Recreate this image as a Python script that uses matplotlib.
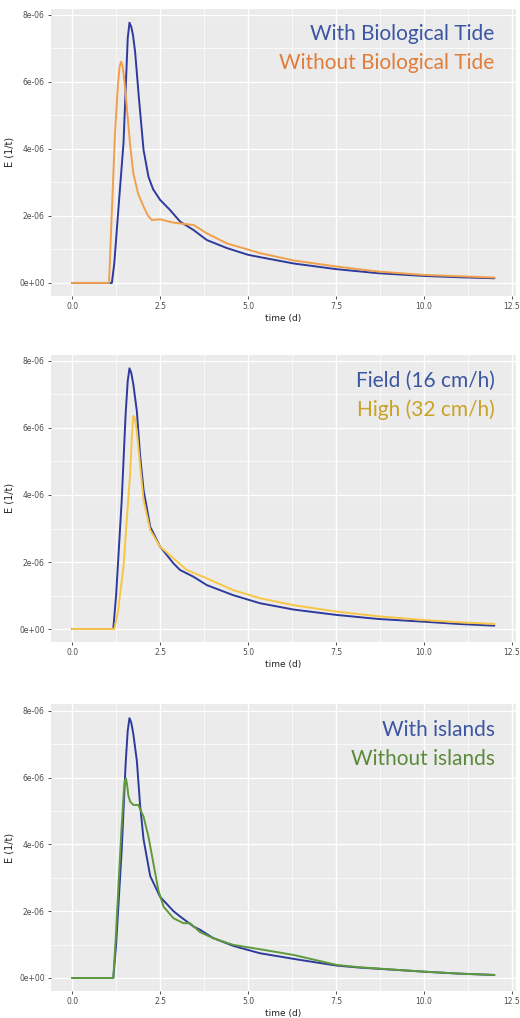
import matplotlib
matplotlib.use("Agg")
import matplotlib.pyplot as plt
import numpy as np

# ---------------- data ----------------
# Panel 1
t_bio = [0.0, 1.0, 1.13, 1.2, 1.3, 1.46, 1.53, 1.58, 1.63, 1.68, 1.73, 1.79, 1.9, 2.03, 2.17, 2.3, 2.5, 2.78, 3.07, 3.45, 3.83, 4.4, 5.0, 5.34, 6.3, 7.52, 8.7, 9.98, 11.0, 12.0]
e_bio = [0.0, 0.0, 0.0, 0.6, 2.0, 4.17, 6.0, 7.3, 7.77, 7.65, 7.4, 6.9, 5.5, 3.97, 3.17, 2.8, 2.48, 2.18, 1.83, 1.58, 1.28, 1.04, 0.84, 0.77, 0.58, 0.41, 0.29, 0.21, 0.17, 0.14]
t_nobio = [0.0, 1.0, 1.05, 1.12, 1.22, 1.3, 1.35, 1.39, 1.43, 1.48, 1.55, 1.65, 1.74, 1.88, 2.03, 2.15, 2.26, 2.5, 2.88, 3.2, 3.45, 3.83, 4.4, 5.34, 6.3, 7.52, 8.7, 9.98, 11.0, 12.0]
e_nobio = [0.0, 0.0, 0.0, 1.9, 4.47, 5.9, 6.45, 6.6, 6.5, 6.1, 5.3, 4.1, 3.27, 2.65, 2.28, 2.02, 1.88, 1.90, 1.80, 1.76, 1.73, 1.48, 1.18, 0.89, 0.67, 0.49, 0.34, 0.24, 0.20, 0.16]

# Panel 2
t_field = [0.0, 1.1, 1.17, 1.25, 1.41, 1.52, 1.58, 1.63, 1.68, 1.74, 1.84, 1.93, 2.03, 2.22, 2.5, 2.88, 3.07, 3.45, 3.83, 4.58, 5.34, 6.3, 7.52, 8.7, 9.98, 11.0, 12.0]
e_field = [0.0, 0.0, 0.0, 1.0, 3.85, 6.4, 7.4, 7.78, 7.65, 7.3, 6.5, 5.2, 4.15, 3.05, 2.46, 1.96, 1.76, 1.56, 1.31, 1.01, 0.77, 0.58, 0.42, 0.30, 0.22, 0.15, 0.10]
t_high = [0.0, 1.15, 1.2, 1.3, 1.46, 1.55, 1.65, 1.7, 1.74, 1.78, 1.84, 1.93, 2.03, 2.22, 2.5, 2.88, 3.26, 3.83, 4.58, 5.34, 6.3, 7.52, 8.7, 9.98, 11.0, 12.0]
e_high = [0.0, 0.0, 0.0, 0.5, 1.86, 3.2, 4.65, 5.8, 6.36, 6.3, 5.9, 4.9, 3.85, 2.95, 2.46, 2.11, 1.76, 1.51, 1.16, 0.92, 0.71, 0.52, 0.38, 0.27, 0.20, 0.15]

# Panel 3
t_isl = [0.0, 1.1, 1.17, 1.25, 1.41, 1.52, 1.58, 1.63, 1.68, 1.74, 1.84, 1.93, 2.03, 2.22, 2.5, 2.88, 3.07, 3.45, 3.64, 4.0, 4.58, 5.34, 6.48, 7.52, 8.18, 9.98, 11.0, 12.0]
e_isl = [0.0, 0.0, 0.0, 1.0, 3.85, 6.4, 7.4, 7.78, 7.65, 7.3, 6.5, 5.2, 4.15, 3.05, 2.43, 2.0, 1.84, 1.54, 1.44, 1.2, 0.96, 0.74, 0.54, 0.37, 0.31, 0.19, 0.13, 0.09]
t_noisl = [0.0, 1.1, 1.17, 1.24, 1.31, 1.4, 1.47, 1.5, 1.53, 1.56, 1.6, 1.65, 1.74, 1.88, 2.03, 2.17, 2.31, 2.45, 2.6, 2.88, 3.16, 3.35, 3.64, 4.01, 4.58, 5.34, 6.29, 7.52, 8.18, 9.98, 11.0, 12.0]
e_noisl = [0.0, 0.0, 0.0, 1.2, 2.63, 4.4, 5.6, 5.9, 5.98, 5.8, 5.45, 5.28, 5.18, 5.18, 4.83, 4.23, 3.43, 2.63, 2.13, 1.79, 1.64, 1.64, 1.37, 1.19, 0.99, 0.86, 0.69, 0.39, 0.32, 0.19, 0.13, 0.09]

panels = [
    dict(series=[(t_bio, e_bio, "#2E3A9C"), (t_nobio, e_nobio, "#F0A04C")],
         labels=[("With Biological Tide", "#3B56A3"), ("Without Biological Tide", "#E07D3A")]),
    dict(series=[(t_field, e_field, "#2E3A9C"), (t_high, e_high, "#F7C646")],
         labels=[("Field (16 cm/h)", "#3B56A3"), ("High (32 cm/h)", "#C9A228")]),
    dict(series=[(t_isl, e_isl, "#2E3A9C"), (t_noisl, e_noisl, "#5E9A3C")],
         labels=[("With islands", "#3B56A3"), ("Without islands", "#5B8A3A")]),
]

xticks = [0.0, 2.5, 5.0, 7.5, 10.0, 12.5]
xtick_labels = ["0.0", "2.5", "5.0", "7.5", "10.0", "12.5"]
yticks = [0, 2e-6, 4e-6, 6e-6, 8e-6]
ytick_labels = ["0e+00", "2e-06", "4e-06", "6e-06", "8e-06"]

fig = plt.figure(figsize=(5.2, 10.18), dpi=100)
W, H = 520, 1018
# (top px, bottom px) for each panel
boxes = [(8.6, 296.0), (354.6, 642.1), (704.4, 991.0)]
left_px, right_px = 51.0, 515.5

for p, (top, bot) in zip(panels, boxes):
    ax = fig.add_axes([left_px / W, 1 - bot / H, (right_px - left_px) / W, (bot - top) / H])
    ax.set_facecolor("#EBEBEB")
    for s in ax.spines.values():
        s.set_visible(False)
    ax.set_xlim(-0.6, 12.6)
    ax.set_ylim(-0.39e-6, 8.19e-6)
    ax.set_xticks(xticks)
    ax.set_xticklabels(xtick_labels)
    ax.set_yticks(yticks)
    ax.set_yticklabels(ytick_labels)
    ax.set_xticks([1.25, 3.75, 6.25, 8.75, 11.25], minor=True)
    ax.set_yticks([1e-6, 3e-6, 5e-6, 7e-6], minor=True)
    ax.grid(which="major", color="white", linewidth=1.0)
    ax.grid(which="minor", color="white", linewidth=0.5)
    ax.set_axisbelow(True)
    ax.tick_params(which="major", length=2.5, width=0.6, color="#333333",
                   labelsize=5.5, labelcolor="#4D4D4D", pad=2)
    ax.tick_params(which="minor", length=0)
    ax.set_xlabel("time (d)", fontsize=6.5, color="#222222", labelpad=2)
    ax.set_ylabel("E (1/t)", fontsize=7, color="#222222", labelpad=3)
    for t, e, c in p["series"]:
        ax.plot(t, np.array(e) * 1e-6, color=c, linewidth=1.4,
                solid_joinstyle="round", solid_capstyle="round")
    (l1, c1), (l2, c2) = p["labels"]
    ax.text(0.955, 0.91, l1, transform=ax.transAxes, ha="right", va="center",
            fontsize=15, color=c1, family=["Lato", "DejaVu Sans"])
    ax.text(0.955, 0.81, l2, transform=ax.transAxes, ha="right", va="center",
            fontsize=15, color=c2, family=["Lato", "DejaVu Sans"])

fig.savefig("out.png", dpi=100, facecolor="white")
